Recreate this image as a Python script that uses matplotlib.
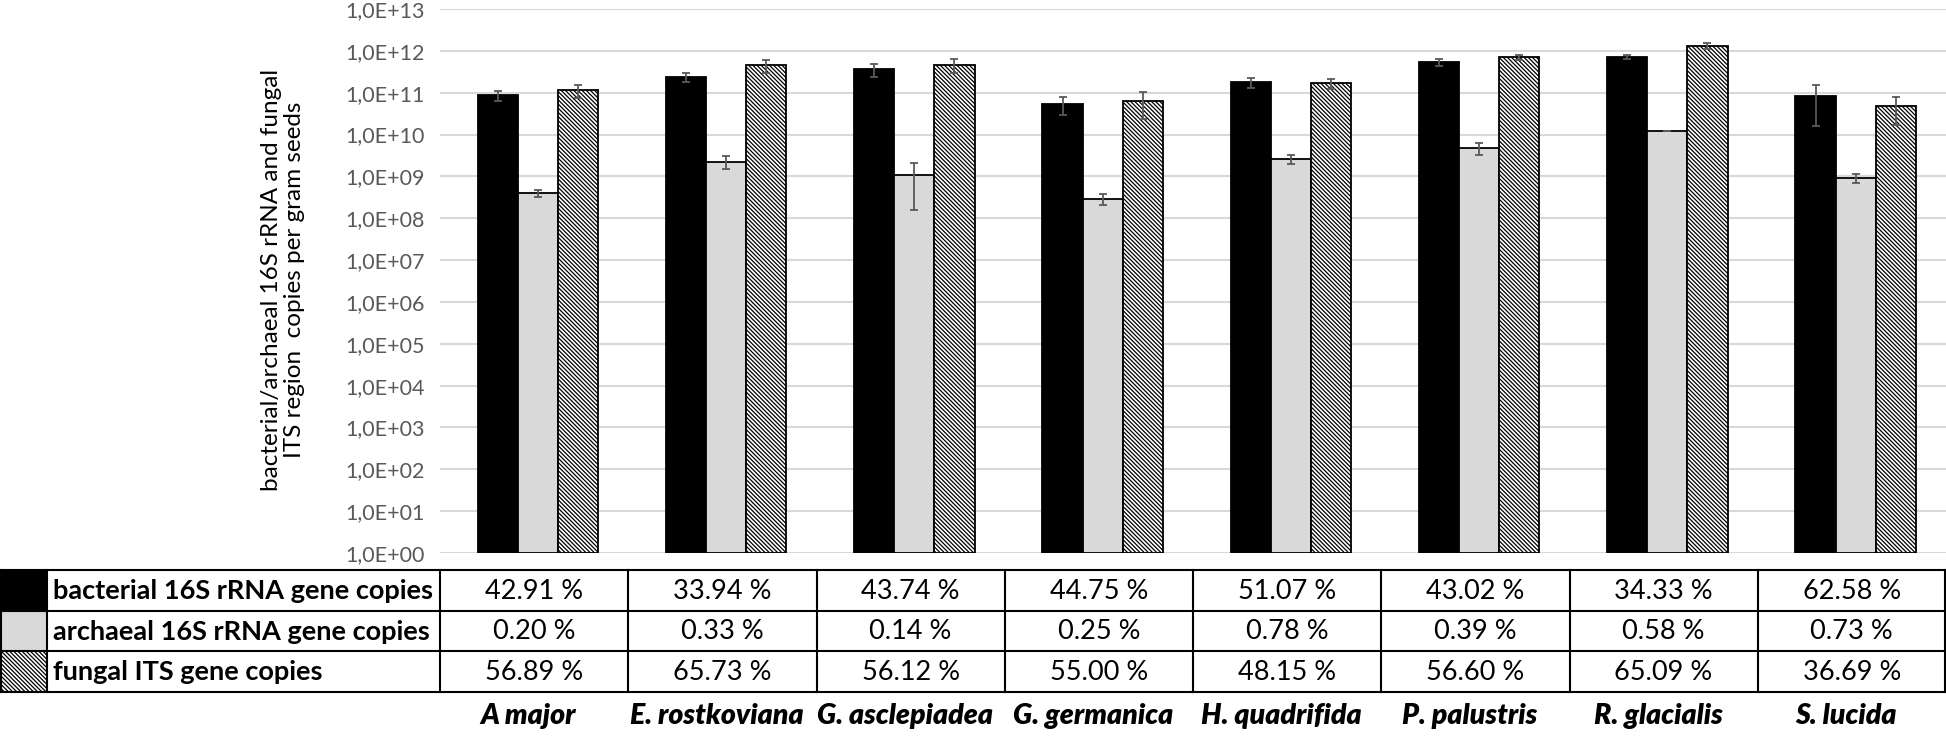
import matplotlib
matplotlib.use("Agg")
import matplotlib.pyplot as plt
from matplotlib.patches import Rectangle
from matplotlib.ticker import FuncFormatter, FixedLocator, NullLocator
import matplotlib.transforms as mtransforms
import numpy as np

plt.rcParams['font.family'] = ['Lato', 'DejaVu Sans']
plt.rcParams['hatch.linewidth'] = 0.9

categories = ["A major", "E. rostkoviana", "G. asclepiadea", "G. germanica",
              "H. quadrifida", "P. palustris", "R. glacialis", "S. lucida"]

bacterial = [8.6e10, 2.37e11, 3.67e11, 5.37e10, 1.8e11, 5.4e11, 7.2e11, 8.3e10]
bacterial_sd = [2.4e10, 5.8e10, 1.26e11, 2.5e10, 4.8e10, 9.7e10, 9.0e10, 6.7e10]
archaeal = [3.9e8, 2.24e9, 1.1e9, 2.9e8, 2.6e9, 4.67e9, 1.2e10, 9.1e8]
archaeal_sd = [7.0e7, 7.6e8, 9.4e8, 8.0e7, 6.4e8, 1.5e9, 1.0e8, 2.1e8]
fungal = [1.14e11, 4.5e11, 4.6e11, 6.45e10, 1.67e11, 6.98e11, 1.34e12, 4.8e10]
fungal_sd = [4.1e10, 1.6e11, 1.7e11, 4.1e10, 4.5e10, 1.1e11, 2.4e11, 3.1e10]

row_labels = ["bacterial 16S rRNA gene copies",
              "archaeal 16S rRNA gene copies",
              "fungal ITS gene copies"]
pct_bacterial = ["42.91 %", "33.94 %", "43.74 %", "44.75 %", "51.07 %", "43.02 %", "34.33 %", "62.58 %"]
pct_archaeal = ["0.20 %", "0.33 %", "0.14 %", "0.25 %", "0.78 %", "0.39 %", "0.58 %", "0.73 %"]
pct_fungal = ["56.89 %", "65.73 %", "56.12 %", "55.00 %", "48.15 %", "56.60 %", "65.09 %", "36.69 %"]

ylabel = "bacterial/archaeal 16S rRNA and fungal\nITS region  copies per gram seeds"

W, H = 1946, 736
fig = plt.figure(figsize=(W / 100, H / 100), dpi=100)

# layout in pixels
ax_left, ax_right = 440, 1946
ax_top, ax_bottom = 9, 553
ax = fig.add_axes([ax_left / W, 1 - ax_bottom / H, (ax_right - ax_left) / W, (ax_bottom - ax_top) / H])

hatch = "\\" * 8
styles = [
    dict(color="black", hatch=None),
    dict(color="#d9d9d9", hatch=None),
    dict(color="white", hatch=hatch),
]
series = [(bacterial, bacterial_sd), (archaeal, archaeal_sd), (fungal, fungal_sd)]

x = np.arange(len(categories))
bw = 0.213
for i, ((vals, sd), st) in enumerate(zip(series, styles)):
    pos = x + (i - 1) * bw + 0.02
    ax.bar(pos, vals, bw, bottom=1, color=st["color"], edgecolor="black",
           hatch=st["hatch"], linewidth=1.3, zorder=3)
    ax.errorbar(pos, vals, yerr=sd, fmt="none", ecolor="#595959", elinewidth=1.3,
                capsize=3, capthick=1.3, zorder=4)

ax.set_yscale("log")
ax.set_ylim(1, 1e13)
ax.set_xlim(-0.5, len(categories) - 0.5)
ax.yaxis.set_major_locator(FixedLocator([10.0 ** k for k in range(14)]))
ax.yaxis.set_minor_locator(NullLocator())
ax.yaxis.set_major_formatter(FuncFormatter(lambda v, p: "1,0E+%02d" % int(round(np.log10(v)))))
ax.tick_params(axis="y", length=0, labelsize=15.5, labelcolor="#595959", pad=11)
ax.set_xticks([])
ax.grid(axis="y", color="#d9d9d9", linewidth=1.5, zorder=0)
for s in ax.spines.values():
    s.set_visible(False)

fig.text(283 / W, 1 - 280 / H, ylabel, rotation=90, ha="center", va="center",
         fontsize=17.5, linespacing=1.1, multialignment="center")

# data table below the chart
t_top, t_bottom = 570, 692
tax = fig.add_axes([0, 1 - t_bottom / H, 1, (t_bottom - t_top) / H])
tax.set_xlim(0, W)
tax.set_ylim(3, 0)
tax.axis("off")

col_w = (ax_right - ax_left) / len(categories)
sw = 47
lk = dict(color="black", linewidth=1.5, clip_on=False)
for r in range(4):
    tax.plot([0, W - 1], [r, r], **lk)
for xv in [0.5, sw] + [ax_left + col_w * c for c in range(len(categories))] + [W - 1]:
    tax.plot([xv, xv], [0, 3], **lk)

for r, st in enumerate(styles):
    tax.add_patch(Rectangle((0.5, r), sw - 0.5, 1, facecolor=st["color"], edgecolor="black",
                            hatch=st["hatch"], linewidth=1.2, zorder=1))
    tax.text(sw + 6, r + 0.52, row_labels[r], ha="left", va="center",
             fontsize=19.5, fontweight="bold")

for r, vals in enumerate([pct_bacterial, pct_archaeal, pct_fungal]):
    for c, v in enumerate(vals):
        tax.text(ax_left + col_w * (c + 0.5), r + 0.52, v, ha="center", va="center", fontsize=19.5)

trans = mtransforms.blended_transform_factory(ax.transData, fig.transFigure)
for c, name in enumerate(categories):
    ax.text(c - 0.03, 1 - 716 / H, name, transform=trans, ha="center", va="center",
            fontsize=20.5, fontweight="heavy", fontstyle="italic", clip_on=False)

fig.savefig("out.png", dpi=100)
